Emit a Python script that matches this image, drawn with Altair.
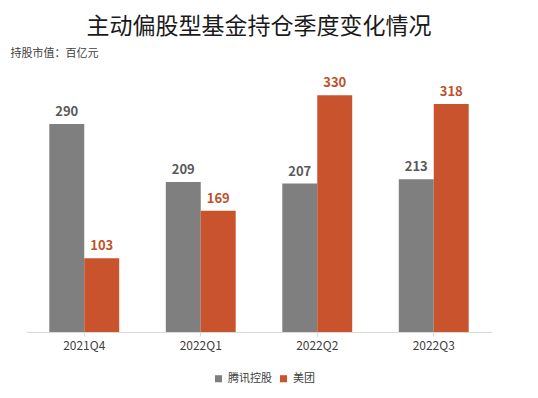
import altair as alt
import pandas as pd

quarters = ["2021Q4", "2022Q1", "2022Q2", "2022Q3"]
tencent = [290, 209, 207, 213]
meituan = [103, 169, 330, 318]
series_names = ["腾讯控股", "美团"]
bar_colors = ["#7f7f7f", "#c9532c"]
label_colors = ["#595959", "#c0502a"]

rows = []
for i, q in enumerate(quarters):
    rows.append({"quarter": q, "series": series_names[0], "value": tencent[i]})
    rows.append({"quarter": q, "series": series_names[1], "value": meituan[i]})
df = pd.DataFrame(rows)

FONT = "Noto Sans CJK SC"

x = alt.X("quarter:N", sort=quarters, title=None,
          scale=alt.Scale(paddingInner=0.4, paddingOuter=0.2),
          axis=alt.Axis(labelAngle=0, labelFontSize=12, labelColor="#404040",
                        labelFont=FONT, labelPadding=4,
                        domainColor="#d9d9d9", tickColor="#d9d9d9", tickSize=4))
y = alt.Y("value:Q", scale=alt.Scale(domain=[0, 350]),
          axis=alt.Axis(title="持股市值：百亿元", titleAngle=0, titleAlign="left",
                        titleBaseline="middle", titleX=-16, titleY=-28,
                        titleFont=FONT, titleFontSize=11, titleFontWeight="normal",
                        titleColor="#404040",
                        labels=False, ticks=False, domain=False, grid=False))
xoff = alt.XOffset("series:N", sort=series_names)

bars = alt.Chart(df).mark_bar().encode(
    x=x, y=y, xOffset=xoff,
    color=alt.Color("series:N", sort=series_names,
                    scale=alt.Scale(domain=series_names, range=bar_colors),
                    legend=alt.Legend(title=None, orient="none", direction="horizontal",
                                      legendX=187, legendY=292,
                                      symbolType="square", symbolSize=50,
                                      labelFont=FONT, labelFontSize=11,
                                      labelColor="#404040", labelOffset=4,
                                      columnPadding=6, symbolStrokeWidth=0)),
)

texts = []
for name, col in zip(series_names, label_colors):
    t = alt.Chart(df).transform_filter(alt.datum.series == name).mark_text(
        dy=-12, fontSize=13, fontWeight="bold", font=FONT, color=col
    ).encode(x=x, y=y, xOffset=xoff, text="value:Q")
    texts.append(t)

chart = alt.layer(bars, *texts).properties(
    width=466, height=251,
    title=alt.TitleParams("主动偏股型基金持仓季度变化情况", font=FONT, fontSize=23,
                          fontWeight="normal", color="#1a1a1a", anchor="middle",
                          offset=8),
    autosize=alt.AutoSizeParams(type="none"),
    padding={"left": 18, "top": 73, "right": 38, "bottom": 58},
).configure(background="white").configure_view(strokeWidth=0, stroke=None)

chart.save("out.html", embed_options={"renderer": "svg", "actions": False})
